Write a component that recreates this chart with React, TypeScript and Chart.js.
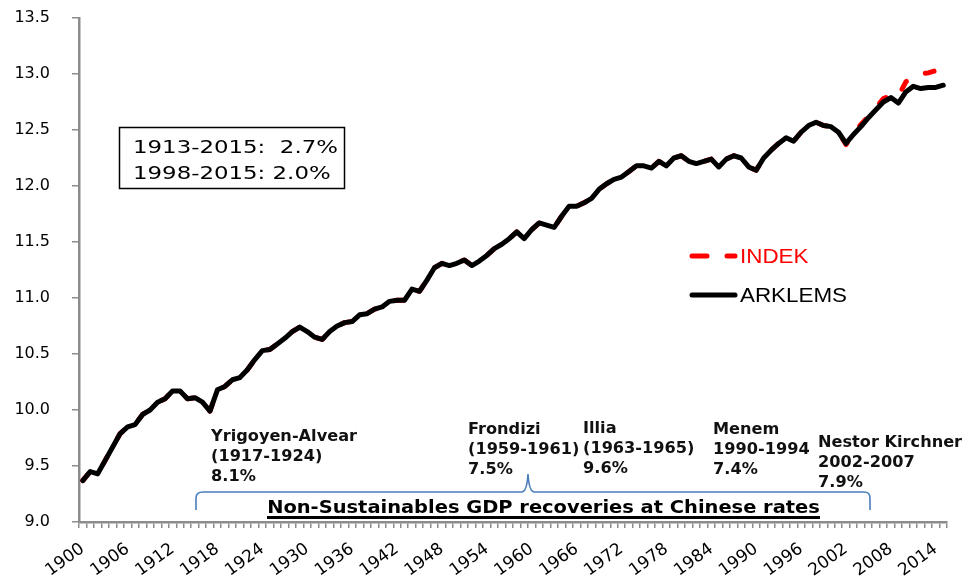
import React, { useEffect, useRef } from "react";
import { Chart, registerables } from "chart.js";

Chart.register(...registerables);

// ---- Data ----
const YEARS: string[] = Array.from({ length: 116 }, (_, i) => String(1900 + i));

const X_TICK_LABELS: string[] = [
  "1900", "1906", "1912", "1918", "1924", "1930", "1936", "1942", "1948", "1954",
  "1960", "1966", "1972", "1978", "1984", "1990", "1996", "2002", "2008", "2014",
];

const ARKLEMS: number[] = [
  9.37, 9.45, 9.43, 9.55, 9.67, 9.79, 9.85, 9.87, 9.96, 10.0,
  10.07, 10.1, 10.17, 10.17, 10.1, 10.11, 10.07, 9.99, 10.18, 10.21,
  10.27, 10.29, 10.36, 10.45, 10.53, 10.54, 10.59, 10.64, 10.7, 10.74,
  10.7, 10.65, 10.63, 10.7, 10.75, 10.78, 10.79, 10.85, 10.86, 10.9,
  10.92, 10.97, 10.98, 10.98, 11.08, 11.06, 11.16, 11.27, 11.31, 11.29,
  11.31, 11.34, 11.29, 11.33, 11.38, 11.44, 11.48, 11.53, 11.59, 11.53,
  11.61, 11.67, 11.65, 11.63, 11.73, 11.82, 11.82, 11.85, 11.89, 11.97,
  12.02, 12.06, 12.08, 12.13, 12.18, 12.18, 12.16, 12.22, 12.18, 12.25,
  12.27, 12.22, 12.2, 12.22, 12.24, 12.17, 12.24, 12.27, 12.25, 12.17,
  12.14, 12.25, 12.32, 12.38, 12.43, 12.4, 12.48, 12.54, 12.57, 12.54,
  12.53, 12.48, 12.38, 12.46, 12.53, 12.61, 12.68, 12.75, 12.79, 12.74,
  12.84, 12.89, 12.87, 12.88, 12.88, 12.9,
];

const INDEK: number[] = [
  9.37, 9.45, 9.43, 9.55, 9.67, 9.79, 9.85, 9.87, 9.96, 10.0,
  10.07, 10.1, 10.17, 10.17, 10.1, 10.11, 10.07, 9.99, 10.18, 10.21,
  10.27, 10.29, 10.36, 10.45, 10.53, 10.54, 10.59, 10.64, 10.7, 10.74,
  10.7, 10.65, 10.63, 10.7, 10.75, 10.78, 10.79, 10.85, 10.86, 10.9,
  10.92, 10.97, 10.98, 10.98, 11.08, 11.06, 11.16, 11.27, 11.31, 11.29,
  11.31, 11.34, 11.29, 11.33, 11.38, 11.44, 11.48, 11.53, 11.59, 11.53,
  11.61, 11.67, 11.65, 11.63, 11.73, 11.82, 11.82, 11.85, 11.89, 11.97,
  12.02, 12.06, 12.08, 12.13, 12.18, 12.18, 12.16, 12.22, 12.18, 12.25,
  12.27, 12.22, 12.2, 12.22, 12.24, 12.17, 12.24, 12.27, 12.25, 12.17,
  12.14, 12.25, 12.32, 12.38, 12.43, 12.4, 12.48, 12.54, 12.57, 12.54,
  12.53, 12.48, 12.37, 12.47, 12.55, 12.62, 12.7, 12.78, 12.81, 12.8,
  12.93, 12.98, 13.0, 13.01, 13.03, 13.05,
];

const SERIES_NAMES = ["ARKLEMS", "INDEK"];

const GROWTH_BOX_LINES = ["1913-2015:  2.7%", "1998-2015: 2.0%"];

const EPISODES: { lines: string[]; x: number; y: number }[] = [
  { lines: ["Yrigoyen-Alvear", "(1917-1924)", "8.1%"], x: 211, y: 441 },
  { lines: ["Frondizi", "(1959-1961)", "7.5%"], x: 468, y: 434 },
  { lines: ["Illia", "(1963-1965)", "9.6%"], x: 583, y: 433 },
  { lines: ["Menem", "1990-1994", "7.4%"], x: 713, y: 434 },
  { lines: ["Nestor Kirchner", "2002-2007", "7.9%"], x: 818, y: 447 },
];

const BRACE_TITLE = "Non-Sustainables GDP recoveries at Chinese rates";

function stretchText(
  ctx: CanvasRenderingContext2D,
  text: string,
  x: number,
  y: number,
  sx: number,
  align: "left" | "center" = "left"
) {
  ctx.save();
  ctx.translate(x, y);
  ctx.scale(sx, 1);
  ctx.textAlign = align;
  ctx.fillText(text, 0, 0);
  ctx.restore();
}

const overlayPlugin = {
  id: "overlay",
  afterDraw(chart: any) {
    const ctx: CanvasRenderingContext2D = chart.ctx;
    ctx.save();

    // growth box
    ctx.strokeStyle = "#000";
    ctx.lineWidth = 1.5;
    ctx.strokeRect(119.5, 127.5, 225, 61);
    ctx.fillStyle = "#000";
    ctx.textBaseline = "alphabetic";
    ctx.font = '18px "DejaVu Sans", sans-serif';
    stretchText(ctx, GROWTH_BOX_LINES[0], 133, 153, 1.27);
    stretchText(ctx, GROWTH_BOX_LINES[1], 133, 179, 1.27);

    // legend
    ctx.lineCap = "round";
    ctx.lineWidth = 5;
    ctx.strokeStyle = "#ff0000";
    ctx.setLineDash([15, 20]);
    ctx.beginPath();
    ctx.moveTo(692, 256);
    ctx.lineTo(735, 256);
    ctx.stroke();
    ctx.setLineDash([]);
    ctx.strokeStyle = "#000";
    ctx.beginPath();
    ctx.moveTo(692, 295);
    ctx.lineTo(735, 295);
    ctx.stroke();
    ctx.font = '20px "Liberation Sans", Arial, sans-serif';
    ctx.fillStyle = "#ff0000";
    stretchText(ctx, SERIES_NAMES[1], 740, 263, 1.12);
    ctx.fillStyle = "#000";
    stretchText(ctx, SERIES_NAMES[0], 740, 302, 1.12);

    // episodes
    ctx.font = 'bold 16px "DejaVu Sans", sans-serif';
    ctx.fillStyle = "#111";
    EPISODES.forEach((ep) => {
      ep.lines.forEach((ln, i) => {
        stretchText(ctx, ln, ep.x, ep.y + i * 20, 1.01);
      });
    });

    // brace
    ctx.strokeStyle = "#4a7ebb";
    ctx.lineWidth = 1.6;
    ctx.lineCap = "butt";
    ctx.beginPath();
    ctx.moveTo(196, 510);
    ctx.lineTo(196, 498);
    ctx.quadraticCurveTo(196, 492, 203, 492);
    ctx.lineTo(522, 492);
    ctx.quadraticCurveTo(527, 491, 528, 474);
    ctx.quadraticCurveTo(529, 491, 534, 492);
    ctx.lineTo(864, 492);
    ctx.quadraticCurveTo(870, 492, 870, 498);
    ctx.lineTo(870, 510);
    ctx.stroke();

    // underlined title
    ctx.font = 'bold 18px "DejaVu Sans", sans-serif';
    ctx.fillStyle = "#000";
    stretchText(ctx, BRACE_TITLE, 543.5, 513, 1.08, "center");
    ctx.fillRect(267, 516, 553, 3);

    ctx.restore();
  },
};

export default function App() {
  const canvasRef = useRef<HTMLCanvasElement | null>(null);

  useEffect(() => {
    const canvas = canvasRef.current;
    if (!canvas) return;
    const chart = new Chart(canvas, {
      type: "line",
      data: {
        labels: YEARS,
        datasets: [
          {
            label: SERIES_NAMES[0],
            data: ARKLEMS,
            borderColor: "#000000",
            borderWidth: 5,
            pointRadius: 0,
            tension: 0,
            borderJoinStyle: "round",
            borderCapStyle: "round",
          },
          {
            label: SERIES_NAMES[1],
            data: INDEK,
            borderColor: "#ff0000",
            borderWidth: 5,
            borderDash: [9, 21],
            pointRadius: 0,
            tension: 0,
            borderJoinStyle: "round",
            borderCapStyle: "round",
          },
        ],
      },
      options: {
        animation: false,
        responsive: false,
        devicePixelRatio: 1,
        layout: { padding: { top: 18, right: 21, left: 0, bottom: 0 } },
        plugins: {
          legend: { display: false },
          tooltip: { enabled: false },
        },
        scales: {
          x: {
            type: "category",
            offset: true,
            grid: {
              display: true,
              drawOnChartArea: false,
              drawTicks: true,
              tickLength: 6,
              color: "#8c8c8c",
              lineWidth: 1.5,
              offset: true,
            },
            border: { display: true, color: "#8c8c8c", width: 2.5 },
            ticks: {
              autoSkip: false,
              maxRotation: 36,
              minRotation: 36,
              padding: 11,
              color: "#000",
              font: { family: "DejaVu Sans", size: 17 },
              callback: function (this: any, value: any) {
                const lbl = this.getLabelForValue(value);
                return X_TICK_LABELS.includes(lbl) ? lbl : "";
              },
            },
            afterFit: (scale: any) => {
              scale.height = 59;
              scale.paddingLeft = 0;
              scale.paddingRight = 0;
            },
          },
          y: {
            min: 9,
            max: 13.5,
            grid: {
              drawOnChartArea: false,
              drawTicks: true,
              tickLength: 7,
              color: "#8c8c8c",
              lineWidth: 1.5,
            },
            border: { display: true, color: "#8c8c8c", width: 2.5 },
            ticks: {
              stepSize: 0.5,
              padding: 22,
              color: "#000",
              font: { family: "DejaVu Sans", size: 16 },
              callback: (v: any) => Number(v).toFixed(1),
            },
            afterFit: (scale: any) => {
              scale.width = 79;
              scale.paddingTop = 0;
              scale.paddingBottom = 0;
            },
          },
        },
      } as any,
      plugins: [overlayPlugin],
    });
    return () => chart.destroy();
  }, []);

  return (
    <div style={{ position: "fixed", left: 0, top: 0, width: 968, height: 581, background: "#fff" }}>
      <canvas ref={canvasRef} width={968} height={581} style={{ display: "block" }} />
    </div>
  );
}
